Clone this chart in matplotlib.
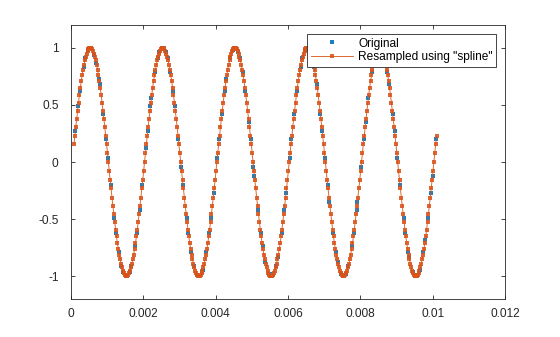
import numpy as np
import matplotlib
matplotlib.use("Agg")
import matplotlib.pyplot as plt
from matplotlib.ticker import FuncFormatter

# Nonuniformly sampled input (times in microseconds)
orig_t_us = [
    117.5, 192.5, 242.5, 342.5, 392.5, 467.5, 542.5, 642.5, 692.5, 767.5, 792.5, 892.5, 967.5, 1017.5, 1092.5, 1192.5, 1242.5, 1317.5, 1392.5, 1442.5, 1542.5,
    1617.5, 1667.5, 1767.5, 1817.5, 1892.5, 1967.5, 2067.5, 2117.5, 2192.5, 2217.5, 2317.5, 2392.5, 2442.5, 2517.5, 2617.5, 2667.5, 2742.5, 2817.5, 2867.5, 2967.5,
    3042.5, 3092.5, 3192.5, 3242.5, 3317.5, 3392.5, 3492.5, 3542.5, 3617.5, 3642.5, 3742.5, 3817.5, 3867.5, 3942.5, 4042.5, 4092.5, 4167.5, 4242.5, 4292.5, 4392.5,
    4467.5, 4517.5, 4617.5, 4667.5, 4742.5, 4817.5, 4917.5, 4967.5, 5042.5, 5067.5, 5167.5, 5242.5, 5292.5, 5367.5, 5467.5, 5517.5, 5592.5, 5667.5, 5717.5, 5817.5,
    5892.5, 5942.5, 6042.5, 6092.5, 6167.5, 6242.5, 6342.5, 6392.5, 6467.5, 6492.5, 6592.5, 6667.5, 6717.5, 6792.5, 6892.5, 6942.5, 7017.5, 7092.5, 7142.5, 7242.5,
    7317.5, 7367.5, 7467.5, 7517.5, 7592.5, 7667.5, 7767.5, 7817.5, 7892.5, 7917.5, 8017.5, 8092.5, 8142.5, 8217.5, 8317.5, 8367.5, 8442.5, 8517.5, 8567.5, 8667.5,
    8742.5, 8792.5, 8892.5, 8942.5, 9017.5, 9092.5, 9192.5, 9242.5, 9317.5, 9342.5, 9442.5, 9517.5, 9567.5, 9642.5, 9742.5, 9792.5, 9867.5, 9942.5, 9992.5, 10092.5,
]
orig_x = [
    0.27, 0.49, 0.62, 0.83, 0.91, 0.98, 1.00, 0.94, 0.87, 0.73, 0.68, 0.42, 0.20, 0.04, -0.20, -0.49, -0.62, -0.79, -0.91, -0.96, -1.00,
    -0.96, -0.91, -0.73, -0.62, -0.42, -0.20, 0.12, 0.27, 0.49, 0.56, 0.79, 0.91, 0.96, 1.00, 0.96, 0.91, 0.79, 0.62, 0.49, 0.20,
    -0.04, -0.20, -0.49, -0.62, -0.79, -0.91, -0.99, -1.00, -0.96, -0.94, -0.79, -0.62, -0.49, -0.27, 0.04, 0.20, 0.42, 0.62, 0.73, 0.91,
    0.98, 1.00, 0.96, 0.91, 0.79, 0.62, 0.35, 0.20, -0.04, -0.12, -0.42, -0.62, -0.73, -0.87, -0.98, -1.00, -0.98, -0.91, -0.83, -0.62,
    -0.42, -0.27, 0.04, 0.20, 0.42, 0.62, 0.83, 0.91, 0.98, 0.99, 0.98, 0.91, 0.83, 0.68, 0.42, 0.27, 0.04, -0.20, -0.35, -0.62,
    -0.79, -0.87, -0.98, -1.00, -0.98, -0.91, -0.73, -0.62, -0.42, -0.35, -0.04, 0.20, 0.35, 0.56, 0.79, 0.87, 0.96, 1.00, 0.99, 0.91,
    0.79, 0.68, 0.42, 0.27, 0.04, -0.20, -0.49, -0.62, -0.79, -0.83, -0.96, -1.00, -0.99, -0.94, -0.79, -0.68, -0.49, -0.27, -0.12, 0.20,
]

# Uniformly resampled output (spline), 40 kHz grid starting at 80 us
resamp_t0 = 80e-6
resamp_dt = 25e-6
resamp_x = [
    0.16, 0.23, 0.31, 0.38, 0.45, 0.52, 0.59, 0.65, 0.71, 0.76, 0.81, 0.85, 0.89, 0.92, 0.95, 0.97, 0.99, 1.00,
    # period 1
    1.00, 1.00, 0.99, 0.97, 0.95, 0.92, 0.89, 0.85, 0.81, 0.76, 0.71, 0.65, 0.59, 0.52, 0.45, 0.38, 0.31, 0.23, 0.16, 0.08, 0.00,
    -0.08, -0.16, -0.23, -0.31, -0.38, -0.45, -0.52, -0.59, -0.65, -0.71, -0.76, -0.81, -0.85, -0.89, -0.92, -0.95, -0.97, -0.99, -1.00, -1.00,
    -1.00, -0.99, -0.97, -0.95, -0.92, -0.89, -0.85, -0.81, -0.76, -0.71, -0.65, -0.59, -0.52, -0.45, -0.38, -0.31, -0.23, -0.16, -0.08, 0.00,
    0.08, 0.16, 0.23, 0.31, 0.38, 0.45, 0.52, 0.59, 0.65, 0.71, 0.76, 0.81, 0.85, 0.89, 0.92, 0.95, 0.97, 0.99, 1.00,
    # period 2
    1.00, 1.00, 0.99, 0.97, 0.95, 0.92, 0.89, 0.85, 0.81, 0.76, 0.71, 0.65, 0.59, 0.52, 0.45, 0.38, 0.31, 0.23, 0.16, 0.08, 0.00,
    -0.08, -0.16, -0.23, -0.31, -0.38, -0.45, -0.52, -0.59, -0.65, -0.71, -0.76, -0.81, -0.85, -0.89, -0.92, -0.95, -0.97, -0.99, -1.00, -1.00,
    -1.00, -0.99, -0.97, -0.95, -0.92, -0.89, -0.85, -0.81, -0.76, -0.71, -0.65, -0.59, -0.52, -0.45, -0.38, -0.31, -0.23, -0.16, -0.08, 0.00,
    0.08, 0.16, 0.23, 0.31, 0.38, 0.45, 0.52, 0.59, 0.65, 0.71, 0.76, 0.81, 0.85, 0.89, 0.92, 0.95, 0.97, 0.99, 1.00,
    # period 3
    1.00, 1.00, 0.99, 0.97, 0.95, 0.92, 0.89, 0.85, 0.81, 0.76, 0.71, 0.65, 0.59, 0.52, 0.45, 0.38, 0.31, 0.23, 0.16, 0.08, 0.00,
    -0.08, -0.16, -0.23, -0.31, -0.38, -0.45, -0.52, -0.59, -0.65, -0.71, -0.76, -0.81, -0.85, -0.89, -0.92, -0.95, -0.97, -0.99, -1.00, -1.00,
    -1.00, -0.99, -0.97, -0.95, -0.92, -0.89, -0.85, -0.81, -0.76, -0.71, -0.65, -0.59, -0.52, -0.45, -0.38, -0.31, -0.23, -0.16, -0.08, 0.00,
    0.08, 0.16, 0.23, 0.31, 0.38, 0.45, 0.52, 0.59, 0.65, 0.71, 0.76, 0.81, 0.85, 0.89, 0.92, 0.95, 0.97, 0.99, 1.00,
    # period 4
    1.00, 1.00, 0.99, 0.97, 0.95, 0.92, 0.89, 0.85, 0.81, 0.76, 0.71, 0.65, 0.59, 0.52, 0.45, 0.38, 0.31, 0.23, 0.16, 0.08, 0.00,
    -0.08, -0.16, -0.23, -0.31, -0.38, -0.45, -0.52, -0.59, -0.65, -0.71, -0.76, -0.81, -0.85, -0.89, -0.92, -0.95, -0.97, -0.99, -1.00, -1.00,
    -1.00, -0.99, -0.97, -0.95, -0.92, -0.89, -0.85, -0.81, -0.76, -0.71, -0.65, -0.59, -0.52, -0.45, -0.38, -0.31, -0.23, -0.16, -0.08, 0.00,
    0.08, 0.16, 0.23, 0.31, 0.38, 0.45, 0.52, 0.59, 0.65, 0.71, 0.76, 0.81, 0.85, 0.89, 0.92, 0.95, 0.97, 0.99, 1.00,
    # period 5 (partial)
    1.00, 1.00, 0.99, 0.97, 0.95, 0.92, 0.89, 0.85, 0.81, 0.76, 0.71, 0.65, 0.59, 0.52, 0.45, 0.38, 0.31, 0.23, 0.16, 0.08, 0.00,
    -0.08, -0.16, -0.23, -0.31, -0.38, -0.45, -0.52, -0.59, -0.65, -0.71, -0.76, -0.81, -0.85, -0.89, -0.92, -0.95, -0.97, -0.99, -1.00, -1.00,
    -1.00, -0.99, -0.97, -0.95, -0.92, -0.89, -0.85, -0.81, -0.76, -0.71, -0.65, -0.59, -0.52, -0.45, -0.38, -0.31, -0.23, -0.16, -0.08, 0.00,
    0.08, 0.16, 0.23,
]

x_ticks = [0, 0.002, 0.004, 0.006, 0.008, 0.01, 0.012]
y_ticks = [-1, -0.5, 0, 0.5, 1]
legend_labels = ["Original", 'Resampled using "spline"']

BLUE = (0.0, 0.447, 0.741)
ORANGE = (0.85, 0.325, 0.098)

plt.rcParams["font.family"] = ["Liberation Sans", "DejaVu Sans"]
plt.rcParams["font.size"] = 8.6

fig = plt.figure(figsize=(5.6, 3.37), dpi=100)
ax = fig.add_axes([0.127, 0.112, 0.775, 0.814])

t_orig = np.asarray(orig_t_us) * 1e-6
t_res = resamp_t0 + resamp_dt * np.arange(len(resamp_x))

ax.plot(t_orig, orig_x, linestyle="none", marker="s", markersize=2.6,
        markeredgewidth=0, color=BLUE, alpha=0.9, label=legend_labels[0])
ax.plot(t_res, resamp_x, linestyle="-", linewidth=0.7, marker="s",
        markersize=2.5, markeredgewidth=0, color=ORANGE, alpha=0.88,
        label=legend_labels[1])

ax.set_xlim(0, 0.012)
ax.set_ylim(-1.2, 1.2)
ax.set_xticks(x_ticks)
ax.set_yticks(y_ticks)
ax.xaxis.set_major_formatter(FuncFormatter(lambda v, p: "%g" % round(v, 6)))
ax.yaxis.set_major_formatter(FuncFormatter(lambda v, p: "%g" % v))

ax.tick_params(direction="in", top=True, right=True, length=3, width=0.6,
               colors="#262626", labelsize=8.6)
ax.tick_params(axis="x", pad=6)
ax.tick_params(axis="y", pad=9)
for s in ax.spines.values():
    s.set_linewidth(0.6)
    s.set_color("#262626")

leg = ax.legend(loc="upper right", bbox_to_anchor=(0.98, 0.967), numpoints=1,
                handlelength=3.5, handletextpad=0.45, borderpad=0.3,
                labelspacing=0.15, borderaxespad=0, fancybox=False,
                framealpha=1, edgecolor="#262626", markerscale=1.0)
leg.get_frame().set_linewidth(0.6)

fig.savefig("out.png", dpi=100)
